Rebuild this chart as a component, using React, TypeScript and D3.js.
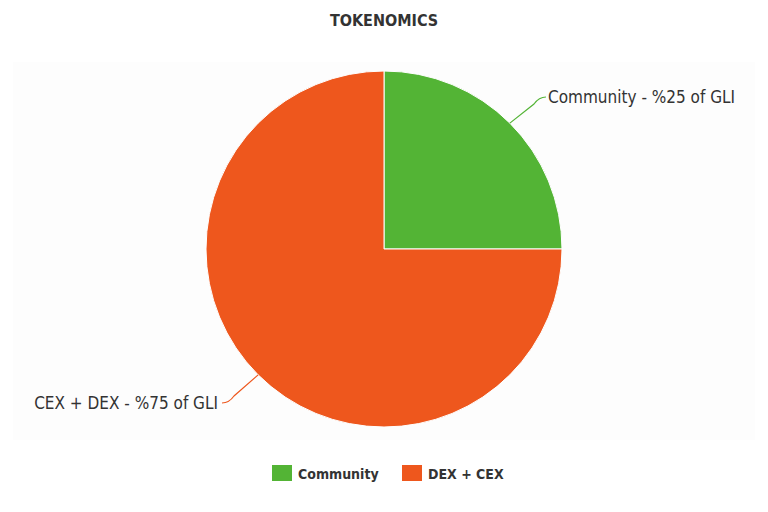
import React from "react";
import * as d3 from "d3";

const categories = ["Community", "DEX + CEX"];
const values = [25, 75];
const labels = ["Community - %25 of GLI", "CEX + DEX - %75 of GLI"];
const colors = ["#53b435", "#ee571d"];
const title = "TOKENOMICS";

const W = 768;
const H = 512;
const FONT = "'DejaVu Sans Condensed', 'DejaVu Sans', sans-serif";

export default function App() {
  const cx = 384;
  const cy = 249;
  const r = 178;
  const pie = d3.pie<number>().sort(null).value((d) => d);
  const arcs = pie(values);
  const arc = d3.arc<d3.PieArcDatum<number>>().innerRadius(0).outerRadius(r);

  const leaders = arcs.map((a, i) => {
    const mid = (a.startAngle + a.endAngle) / 2;
    const sx = cx + Math.sin(mid) * r * 1.0;
    const sy = cy - Math.cos(mid) * r * 1.0;
    const right = Math.sin(mid) > 0;
    const ey = right ? 97 : 403;
    const ex = right ? 546 : 222;
    const kx = right ? ex - 12 : ex + 12;
    const p = d3.path();
    p.moveTo(sx, sy);
    p.lineTo(kx, ey + (right ? 7 : -7));
    p.quadraticCurveTo(kx + (right ? 5 : -5), ey, ex, ey);
    return { d: p.toString(), right, ex, ey, i };
  });

  return (
    <svg width={W} height={H} style={{ display: "block", position: "absolute", left: 0, top: 0 }}>
      <rect x={0} y={0} width={W} height={H} fill="#ffffff" />
      <rect x={13} y={62} width={742} height={378} fill="#fdfdfd" />
      <text x={384} y={26} textAnchor="middle" fontFamily={FONT} fontWeight="bold" fontSize={16} fill="#333333">
        {title}
      </text>
      <g transform={`translate(${cx},${cy})`}>
        {arcs.map((a, i) => (
          <path key={i} d={arc(a) || ""} fill={colors[i]} stroke="#ffffff" strokeWidth={1} strokeLinejoin="round" />
        ))}
      </g>
      {leaders.map((l) => (
        <g key={l.i}>
          <path d={l.d} fill="none" stroke={colors[l.i]} strokeWidth={1.2} />
          <text
            x={l.right ? l.ex + 2 : l.ex - 4}
            y={l.ey + 6}
            textAnchor={l.right ? "start" : "end"}
            fontFamily={FONT}
            fontSize={17}
            fill="#333333"
          >
            {labels[l.i]}
          </text>
        </g>
      ))}
      <g>
        {categories.map((c, i) => {
          const x = i === 0 ? 272 : 402;
          return (
            <g key={c}>
              <rect x={x} y={465} width={20} height={16} fill={colors[i]} />
              <text x={x + 26} y={479} fontFamily={FONT} fontWeight="bold" fontSize={14} fill="#333333">
                {c}
              </text>
            </g>
          );
        })}
      </g>
    </svg>
  );
}
